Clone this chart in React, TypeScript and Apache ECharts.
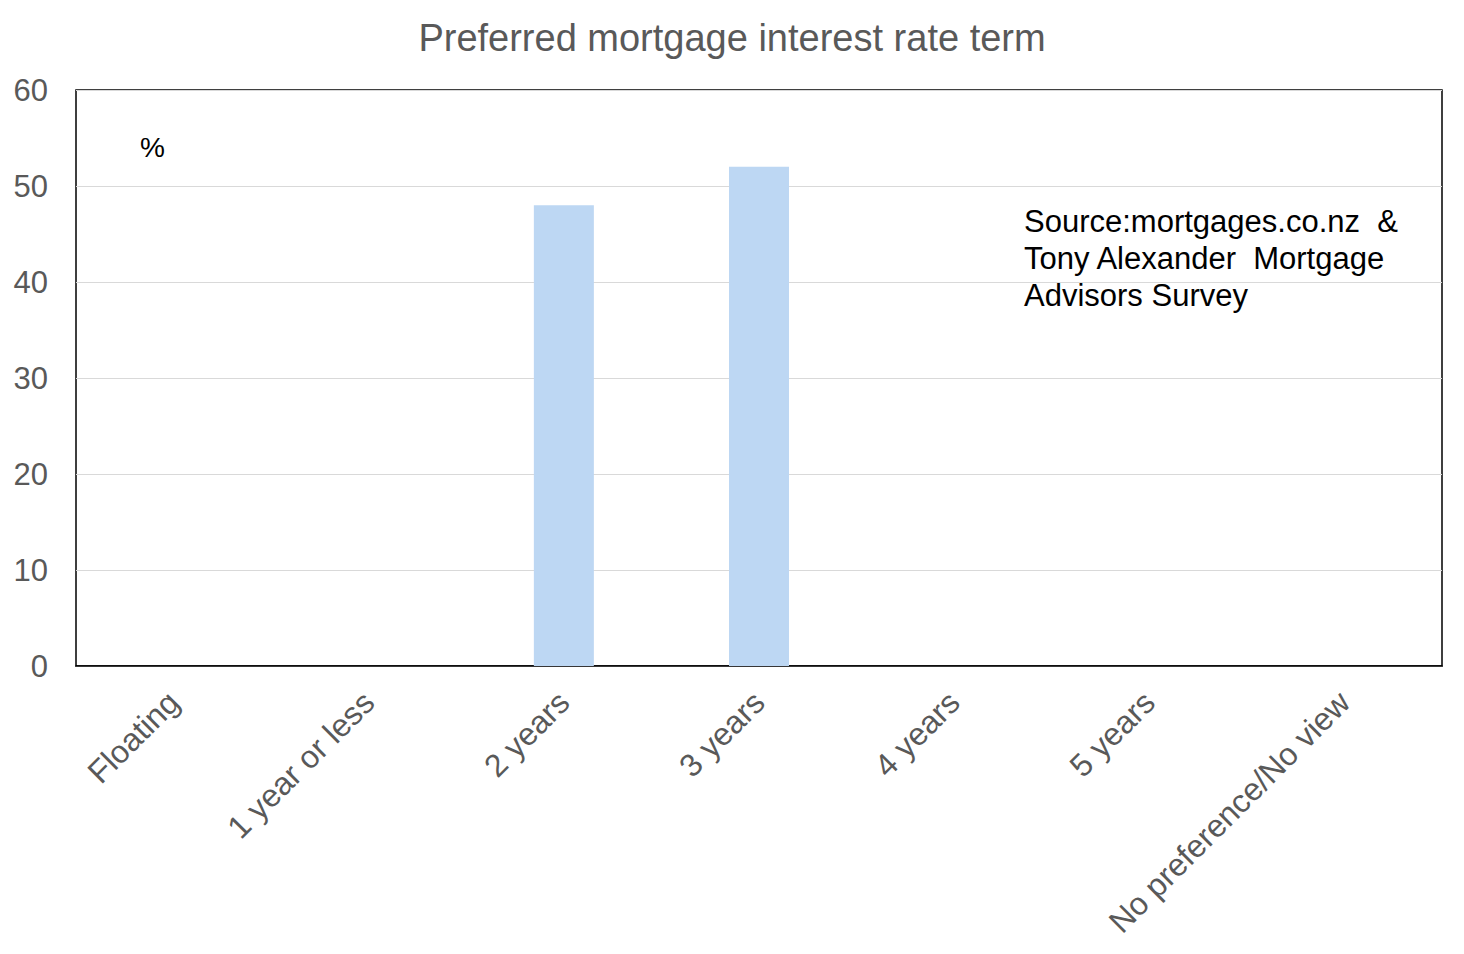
import React, { useEffect, useRef } from "react";
import * as echarts from "echarts";

const categories = [
  "Floating",
  "1 year or less",
  "2 years",
  "3 years",
  "4 years",
  "5 years",
  "No preference/No view",
];
const values = [0, 0, 48, 52, 0, 0, 0];
const yTicks = { min: 0, max: 60, interval: 10 };
const titleText = "Preferred mortgage interest rate term";
const unitText = "%";
const sourceLines = [
  "Source:mortgages.co.nz  &",
  "Tony Alexander  Mortgage",
  "Advisors Survey",
];

export default function App() {
  const ref = useRef<HTMLDivElement>(null);
  useEffect(() => {
    if (!ref.current) return;
    const chart = echarts.init(ref.current, null, { renderer: "svg" });
    const font = "Liberation Sans, Arial, sans-serif";
    chart.setOption({
      animation: false,
      backgroundColor: "#ffffff",
      title: {
        text: titleText,
        left: "center",
        top: 14,
        textStyle: {
          fontFamily: font,
          fontSize: 38,
          fontWeight: "normal",
          color: "#595959",
        },
      },
      grid: {
        left: 76,
        right: 22,
        top: 90,
        bottom: 288,
        show: true,
        borderColor: "#000000",
        borderWidth: 1.5,
        backgroundColor: "transparent",
      },
      xAxis: {
        type: "category",
        data: categories,
        axisLine: { show: true, lineStyle: { color: "#000000", width: 1.5 } },
        axisTick: { show: false },
        axisLabel: {
          rotate: 45,
          interval: 0,
          margin: 31,
          fontFamily: font,
          fontSize: 32,
          color: "#595959",
        },
      },
      yAxis: {
        type: "value",
        min: yTicks.min,
        max: yTicks.max,
        interval: yTicks.interval,
        axisLine: { show: false },
        axisTick: { show: false },
        splitLine: { lineStyle: { color: "#d9d9d9", width: 1 } },
        axisLabel: {
          margin: 28,
          fontFamily: font,
          fontSize: 31,
          color: "#595959",
        },
      },
      series: [
        {
          type: "bar",
          data: values,
          barWidth: 60,
          itemStyle: { color: "#bdd7f3" },
        },
      ],
      graphic: [
        {
          type: "text",
          left: 140,
          top: 133,
          style: {
            text: unitText,
            fontFamily: font,
            fontSize: 28,
            fill: "#000000",
          },
        },
        {
          type: "text",
          left: 1024,
          top: 203,
          style: {
            text: sourceLines.join("\n"),
            fontFamily: font,
            fontSize: 31,
            lineHeight: 37,
            fill: "#000000",
          },
        },
      ],
    });
    return () => chart.dispose();
  }, []);
  return (
    <div
      ref={ref}
      style={{ position: "absolute", left: 0, top: 0, width: 1464, height: 954 }}
    />
  );
}
